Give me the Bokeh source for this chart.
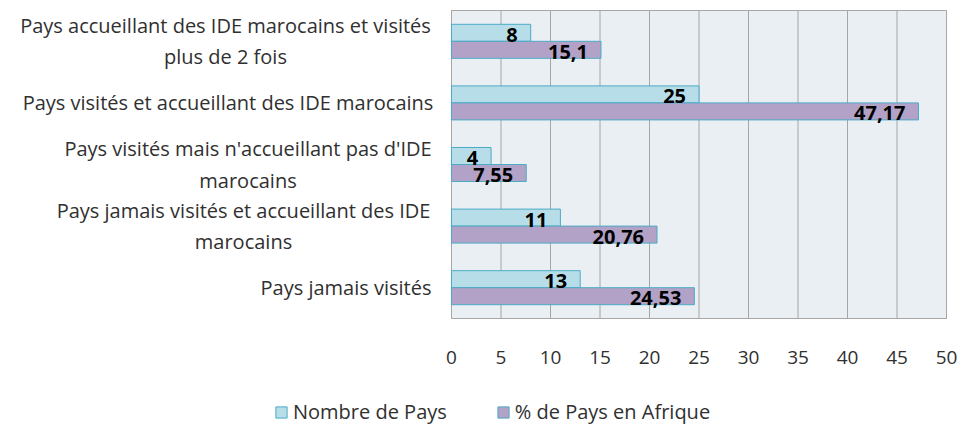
from bokeh.plotting import figure
from bokeh.models import ColumnDataSource, Range1d, Legend, LegendItem, FixedTicker
from bokeh.core.properties import value
from bokeh.embed import file_html
from bokeh.resources import INLINE

# ---------------- data ----------------
categories = [
    "Pays accueillant des IDE marocains et visités\nplus de 2 fois",
    "Pays visités et accueillant des IDE marocains",
    "Pays visités mais n'accueillant pas d'IDE\nmarocains",
    "Pays jamais visités et accueillant des IDE\nmarocains",
    "Pays jamais visités",
]
nombre_pays = [8, 25, 4, 11, 13]
pct_afrique = [15.1, 47.17, 7.55, 20.76, 24.53]
series_names = ["Nombre de Pays", "% de Pays en Afrique"]
x_ticks = [0, 5, 10, 15, 20, 25, 30, 35, 40, 45, 50]

# ---------------- layout (pixels) ----------------
W, H = 964, 425
PA_LEFT, PA_RIGHT, PA_TOP, PA_BOTTOM = 451, 946, 10, 318
X_MAX = x_ticks[-1]
N = len(categories)
px_per_x = (PA_RIGHT - PA_LEFT) / X_MAX
px_per_y = (PA_BOTTOM - PA_TOP) / N
x_start = -PA_LEFT / px_per_x
x_end = X_MAX + (W - PA_RIGHT) / px_per_x
y_top = -0.5 - PA_TOP / px_per_y
y_bottom = (N - 0.5) + (H - PA_BOTTOM) / px_per_y
# width (px) of the first line of each category label, used to centre the lines
label_line_width = [410, 405, 365, 374, 169]
LABEL_GAP = 21

FONT = "Open Sans"
TEXT_COLOR = "#303030"


def fmt(v):
    return f"{v:g}".replace(".", ",")


pos = list(range(N))
bw = 0.276
src = ColumnDataSource(dict(
    cat=categories,
    pos=pos,
    y1=[i - bw / 2 for i in pos],
    y2=[i + bw / 2 for i in pos],
    n=nombre_pays,
    p=pct_afrique,
    nl=[fmt(v) for v in nombre_pays],
    pl=[fmt(v) for v in pct_afrique],
    xo=[-(LABEL_GAP + w / 2) for w in label_line_width],
))

p = figure(
    width=W, height=H,
    x_range=Range1d(x_start, x_end),
    y_range=Range1d(y_bottom, y_top),
    output_backend="svg", toolbar_location=None,
    y_axis_location=None,
    min_border_left=0, min_border_right=0, min_border_top=0, min_border_bottom=0,
)
p.background_fill_color = "white"
p.border_fill_color = "white"
p.outline_line_color = None
p.grid.visible = False

# plot area background
p.quad(left=[0], right=[X_MAX], top=[-0.5], bottom=[N - 0.5],
       fill_color="#E9EFF3", line_color=None)
# vertical grid lines
p.segment(x0=x_ticks, x1=x_ticks, y0=[-0.5] * len(x_ticks), y1=[N - 0.5] * len(x_ticks),
          line_color="#A6A6A6", line_width=1)
# plot area border
p.quad(left=[0], right=[X_MAX], top=[-0.5], bottom=[N - 0.5],
       fill_color=None, line_color="#A6A6A6", line_width=1)

r1 = p.hbar(y="y1", right="n", left=0, height=bw, source=src,
            fill_color="#B7DEE8", line_color="#4BACC6", line_width=1)
r2 = p.hbar(y="y2", right="p", left=0, height=bw, source=src,
            fill_color="#B3A2C7", line_color="#4BACC6", line_width=1)

p.text(x="n", y="y1", text="nl", source=src,
       x_offset=-13, y_offset=2, text_align="right", text_baseline="middle",
       text_font=value(FONT), text_font_style="bold", text_font_size="20px", text_color="black")
p.text(x="p", y="y2", text="pl", source=src,
       x_offset=-13, y_offset=2, text_align="right", text_baseline="middle",
       text_font=value(FONT), text_font_style="bold", text_font_size="20px", text_color="black")

# category labels
p.text(x=0, y="pos", text="cat", source=src, x_offset="xo",
       text_align="center", text_baseline="middle", text_line_height=1.15,
       text_font=value(FONT), text_font_size="20px", text_color=TEXT_COLOR)

# x axis pinned to the bottom of the plot area
p.xaxis.fixed_location = N - 0.5
p.xaxis.ticker = FixedTicker(ticks=x_ticks)
p.xaxis.axis_line_color = None
p.xaxis.major_tick_line_color = None
p.xaxis.minor_tick_line_color = None
p.xaxis.major_label_standoff = 26
p.xaxis.major_label_text_font = FONT
p.xaxis.major_label_text_font_size = "19px"
p.xaxis.major_label_text_color = TEXT_COLOR

legend = Legend(
    items=[LegendItem(label=series_names[0], renderers=[r1]),
           LegendItem(label=series_names[1], renderers=[r2])],
    orientation="horizontal", location=(274, 0),
    label_text_font=FONT, label_text_font_size="20px", label_text_color=TEXT_COLOR,
    glyph_width=14, glyph_height=14, spacing=49, label_standoff=5,
    border_line_color=None, background_fill_alpha=0, padding=0, margin=0,
)
p.add_layout(legend, "center")

open("out.html", "w").write(file_html(p, INLINE))
